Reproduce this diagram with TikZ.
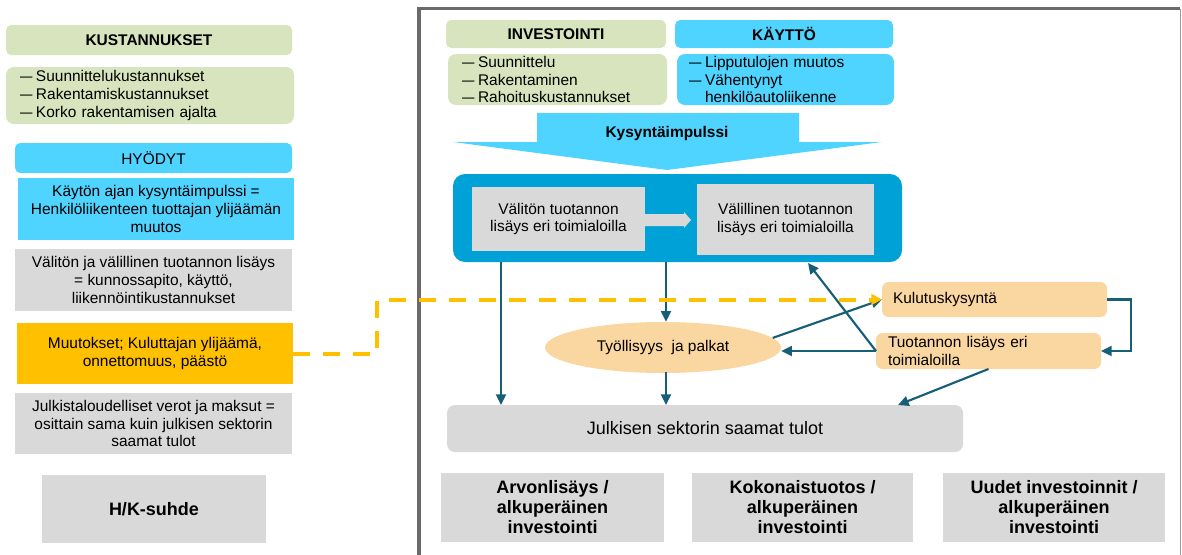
\documentclass[tikz,border=0pt]{standalone}
\usepackage{fontspec}
\setmainfont{Liberation Sans}
\usetikzlibrary{arrows.meta,shapes.geometric}
\definecolor{lgreen}{HTML}{D7E4BD}
\definecolor{cyanb}{HTML}{4FD3FF}
\definecolor{darkb}{HTML}{00A1D6}
\definecolor{lgray}{HTML}{D9D9D9}
\definecolor{orng}{HTML}{FFC000}
\definecolor{peach}{HTML}{FAD6A0}
\definecolor{tealc}{HTML}{175E77}
\definecolor{framec}{HTML}{6A6A6A}
\newcommand\lidash{\makebox[12pt][l]{\scalebox{0.8}[1]{—}}}
\newcommand\liskip{\hspace*{12pt}}
\begin{document}
\begin{tikzpicture}[x=0.75pt,y=-0.75pt,
  rect/.style n args={4}{minimum width={(#3-#1)*0.75pt}, minimum height={(#4-#2)*0.75pt}, at={({(#1+#3)/2},{(#2+#4)/2})}},
  base/.style={inner sep=0pt, outer sep=0pt, font=\fontsize{11.6}{13.2}\selectfont, align=center},
  bf/.style={font=\fontsize{11.6}{13.2}\selectfont\bfseries},
  big/.style={font=\fontsize{13.5}{15}\selectfont\bfseries},
  gbox/.style={base, fill=lgreen, rounded corners=4pt},
  cbox/.style={base, fill=cyanb},
  graybox/.style={base, fill=lgray},
  pbox/.style={base, fill=peach, rounded corners=5pt, align=left},
  arr/.style={draw=tealc, line width=1.6pt, -{Triangle[length=8pt,width=7.5pt]}},
  dsh/.style={draw=orng, line width=3pt, dash pattern=on 12.75pt off 9.75pt, -{Triangle[length=8pt,width=8pt]}}
]
\useasboundingbox (0,0) rectangle (1182,554);
\fill[white] (0,0) rectangle (1182,554);

% frame
\draw[framec, line width=2.8pt] (419,560) -- (419,8.5) -- (1180,8.5);
\draw[black!40, line width=0.9pt] (1180.5,8.5) -- (1180.5,560);

% left column
\node[gbox, bf, rect={6}{25}{292}{55}] (kust) {KUSTANNUKSET};
\node[gbox, rounded corners=6pt, rect={6}{67}{294}{124}, text width=195pt, align=left] (kustl)
  {\lidash Suunnittelukustannukset\\ \lidash Rakentamiskustannukset\\ \lidash Korko rakentamisen ajalta};
\node[cbox, rounded corners=4pt, rect={15}{143}{292}{173}] (hyo) {HYÖDYT};
\node[cbox, rect={18}{178}{294}{240}] (kaya) {Käytön ajan kysyntäimpulssi =\\Henkilöliikenteen tuottajan ylijäämän\\muutos};
\node[graybox, rect={15}{249}{292}{311}] (val) {Välitön ja välillinen tuotannon lisäys\\= kunnossapito, käyttö,\\liikennöintikustannukset};
\node[base, fill=orng, rect={17}{323}{293}{384}] (muut) {Muutokset; Kuluttajan ylijäämä,\\onnettomuus, päästö};
\node[graybox, rect={15}{393}{292}{454}] (jvm) {Julkistaloudelliset verot ja maksut =\\osittain sama kuin julkisen sektorin\\saamat tulot};
\node[graybox, big, rect={42}{475}{266}{543}] (hk) {H/K-suhde};

% top center
\node[gbox, bf, rect={446}{20}{666}{48}] (inv) {INVESTOINTI};
\node[cbox, bf, rounded corners=4pt, rect={675}{20}{893}{48}] (kay) {KÄYTTÖ};
\node[gbox, rounded corners=6pt, rect={448}{54}{667}{105}, text width=143.25pt, align=left] (invl)
  {\lidash Suunnittelu\\ \lidash Rakentaminen\\ \lidash Rahoituskustannukset};
\node[cbox, rounded corners=6pt, rect={677}{54}{894}{105}, text width=144.75pt, align=left] (kayl)
  {\lidash Lipputulojen muutos\\ \lidash Vähentynyt\\ \liskip henkilöautoliikenne};

% big arrow
\fill[cyanb] (537,113) -- (799,113) -- (799,142) -- (882,142) -- (667,170) -- (453,142) -- (537,142) -- cycle;
\node[base, bf] (kys) at (667,133) {Kysyntäimpulssi};

% dark box
\node[base, fill=darkb, rounded corners=9pt, rect={453}{174}{902}{262}] (dark) {};
\node[graybox, rect={472}{187}{645}{251}] (in1) {Välitön tuotannon\\lisäys eri toimialoilla};
\node[graybox, rect={697}{184}{874}{255}] (in2) {Välillinen tuotannon\\lisäys eri toimialoilla};
\fill[lgray] (in1.east |- 0,214) -- (684,214) -- (684,212) -- (691,220) -- (684,228) -- (684,226) -- (in1.east |- 0,226) -- cycle;

% lower center
\node[ellipse, fill=peach, inner sep=0pt, minimum width=177pt, minimum height=38.25pt,
  font=\fontsize{11.6}{13.2}\selectfont] (ell) at (663,347.5) {Työllisyys\ \ ja palkat};
\node[pbox, rect={882}{282}{1107}{317}, text width=152.25pt] (kul) {Kulutuskysyntä};
\node[pbox, rect={876}{333}{1101}{369}, text width=150.75pt] (tuo) {Tuotannon lisäys eri\\toimialoilla};
\node[base, fill=lgray, rounded corners=6pt, rect={447}{405}{963}{452},
  font=\fontsize{13.5}{15}\selectfont] (julk) {Julkisen sektorin saamat tulot};

% bottom boxes
\node[graybox, big, rect={441}{473}{664}{542}] (b1) {Arvonlisäys /\\alkuperäinen\\investointi};
\node[graybox, big, rect={692}{473}{913}{542}] (b2) {Kokonaistuotos /\\alkuperäinen\\investointi};
\node[graybox, big, rect={943}{473}{1165}{542}] (b3) {Uudet investoinnit /\\alkuperäinen\\investointi};

% connectors
\coordinate (d1) at (501,262);
\coordinate (d2) at (666,262);
\coordinate (d3) at (808,263);
\coordinate (d4) at (898,405);
\coordinate (e1) at (666,372);
\draw[arr] (d1) -- (d1 |- julk.north);
\draw[arr] (d2) -- (d2 |- ell.north);
\draw[arr] (e1) -- (e1 |- julk.north);
\draw[arr] (tuo.west) -- (tuo.west -| ell.east);
\draw[arr] (tuo.west) -- (d3);
\draw[arr] (ell.5) -- (kul.west);
\draw[arr] (kul.east) -- ++(24,0) |- (tuo.east);
\draw[arr] (tuo.south) -- (d4);

% dashed orange
\draw[dsh] (muut.east) -- ++(84,0) |- (kul.west);
\end{tikzpicture}
\end{document}
